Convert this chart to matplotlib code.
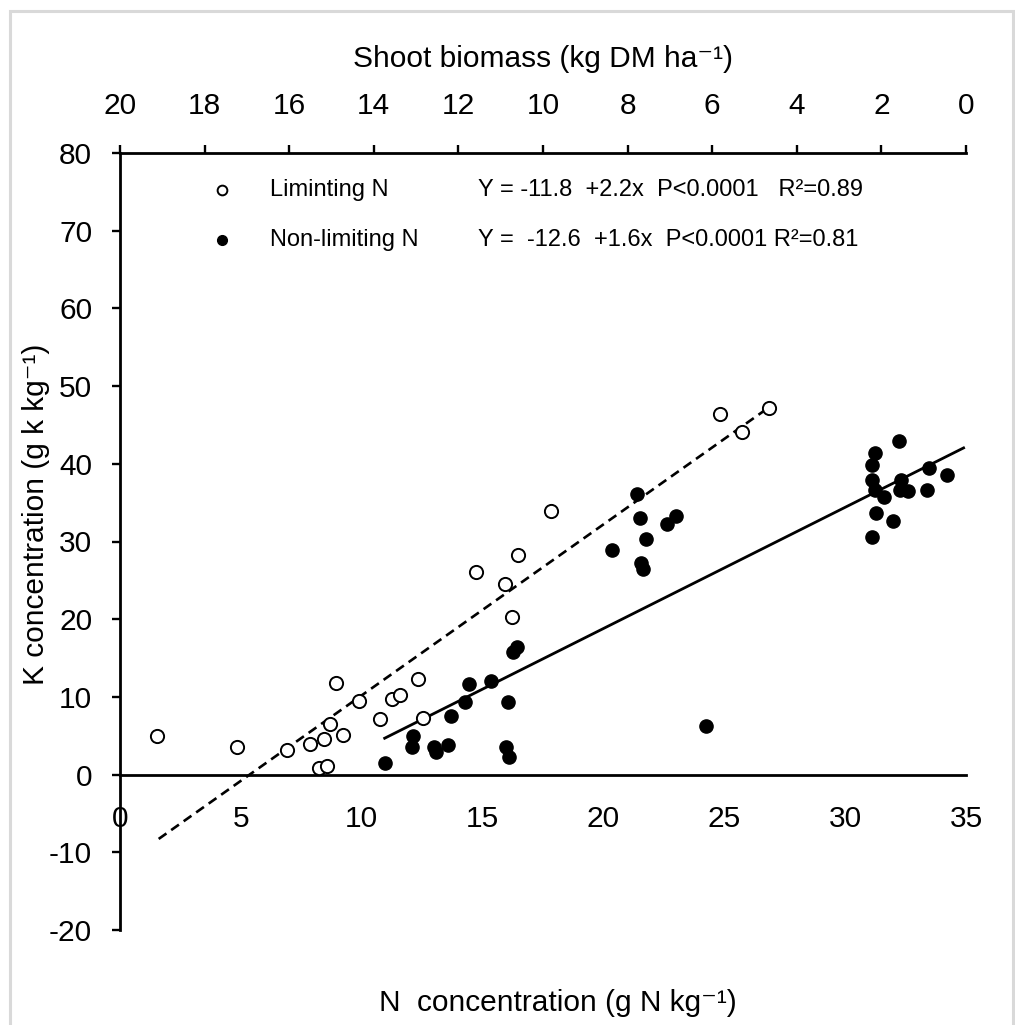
import numpy as np
import matplotlib
matplotlib.use("Agg")
import matplotlib.pyplot as plt
from matplotlib.patches import Rectangle

plt.rcParams['font.family'] = ['Liberation Sans', 'DejaVu Sans']
plt.rcParams['axes.unicode_minus'] = False

# limiting N (open circles)
lim_x = [1.54, 4.83, 6.92, 7.86, 8.44, 8.25, 8.58, 8.69, 8.94, 9.24, 9.88, 10.76,
         11.24, 11.6, 12.31, 12.55, 14.73, 15.93, 16.45, 16.21, 17.82, 24.82, 25.73, 26.86]
lim_y = [4.93, 3.51, 3.18, 3.95, 4.54, 0.81, 1.07, 6.53, 11.8, 5.15, 9.43, 7.2,
         9.72, 10.3, 12.25, 7.3, 26.04, 24.49, 28.31, 20.24, 33.89, 46.42, 44.14, 47.14]

# non-limiting N (filled circles)
non_x = [10.96, 12.11, 12.10, 13.0, 13.07, 13.58, 13.69, 14.27, 14.45, 15.35, 16.04, 15.97,
         16.08, 16.27, 16.41, 20.36, 21.39, 21.51, 21.56, 21.63, 21.75, 22.62, 23.0, 24.24,
         31.1, 31.1, 31.1, 31.22, 31.24, 31.28, 31.61, 31.99, 32.24, 32.31, 32.27, 32.61,
         33.4, 33.48, 34.23]
non_y = [1.45, 4.93, 3.51, 3.6, 2.96, 3.8, 7.55, 9.4, 11.63, 12.1, 9.4, 3.51,
         2.23, 15.83, 16.38, 28.92, 36.13, 33.04, 27.2, 26.5, 30.33, 32.27, 33.24, 6.2,
         30.63, 37.93, 39.86, 41.4, 36.64, 33.68, 35.78, 32.65, 42.9, 37.93, 36.64, 36.55,
         36.64, 39.47, 38.6]

# trend lines: intercept, slope, x range
lim_fit = (-11.8, 2.2)
lim_range = (1.6, 26.9)
non_fit = (-12.4, 1.56)
non_range = (10.95, 34.9)

yticks = [-20, -10, 0, 10, 20, 30, 40, 50, 60, 70, 80]
xticks = [0, 5, 10, 15, 20, 25, 30, 35]
top_ticks = [20, 18, 16, 14, 12, 10, 8, 6, 4, 2, 0]

fig = plt.figure(figsize=(10.15, 10.25), dpi=100)
fig.patches.append(Rectangle((10 / 1015, -0.05), 1003 / 1015, 1.05 - 11 / 1025,
                             transform=fig.transFigure, fill=False,
                             edgecolor='#d9d9d9', linewidth=2.2))
ax = fig.add_axes([120 / 1015, 95 / 1025, 846 / 1015, 777 / 1025])
ax.set_xlim(0, 35)
ax.set_ylim(-20, 80)

ax.plot(lim_x, lim_y, 'o', ms=9.5, mfc='white', mec='black', mew=1.4, zorder=3)
ax.plot(non_x, non_y, 'o', ms=9.5, mfc='black', mec='black', zorder=3)

xl = np.array(lim_range)
ax.plot(xl, lim_fit[0] + lim_fit[1] * xl, color='black', lw=1.9, ls=(0, (3.6, 2.2)))
xn = np.array(non_range)
ax.plot(xn, non_fit[0] + non_fit[1] * xn, color='black', lw=2.0)

ax.spines['right'].set_visible(False)
ax.spines['top'].set_visible(False)
ax.spines['bottom'].set_position(('data', 0))
for s in ['left', 'bottom']:
    ax.spines[s].set_linewidth(2.0)

ax.set_yticks(yticks)
ax.set_xticks(xticks)
ax.tick_params(axis='y', direction='out', length=6, width=1.7, pad=14, labelsize=21.5)
ax.tick_params(axis='x', length=0, pad=22, labelsize=21.5)

sec = ax.secondary_xaxis('top', functions=(lambda x: 20 - x * 20 / 35,
                                           lambda b: (20 - b) * 35 / 20))
sec.set_xticks(top_ticks)
sec.spines['top'].set_linewidth(2.0)
sec.tick_params(direction='out', length=6, width=1.7, pad=18, labelsize=21.5)
sec.set_xlabel('Shoot biomass (kg DM ha\u207b\u00b9)', fontsize=21.5, labelpad=18)

fig.text(558 / 1015, 1 - 1003 / 1025, 'N  concentration (g N kg\u207b\u00b9)',
         fontsize=21.5, ha='center', va='center')
fig.text(36 / 1015, 1 - 514 / 1025, 'K concentration (g k kg\u207b\u00b9)',
         fontsize=21.5, ha='center', va='center', rotation=90)

# legend and equations
leg_y = [75.2, 68.8]
ax.plot([4.2], [leg_y[0]], 'o', ms=7, mfc='white', mec='black', mew=1.4, clip_on=False)
ax.plot([4.2], [leg_y[1]], 'o', ms=7, mfc='black', mec='black', clip_on=False)
ax.text(6.2, leg_y[0], 'Liminting N', fontsize=17, va='center')
ax.text(6.2, leg_y[1], 'Non-limiting N', fontsize=17, va='center')
ax.text(14.8, leg_y[0], 'Y = -11.8  +2.2x  P<0.0001   R\u00b2=0.89',
        fontsize=17, va='center')
ax.text(14.8, leg_y[1], 'Y =  -12.6  +1.6x  P<0.0001 R\u00b2=0.81',
        fontsize=17, va='center')

fig.savefig('out.png', dpi=100)
